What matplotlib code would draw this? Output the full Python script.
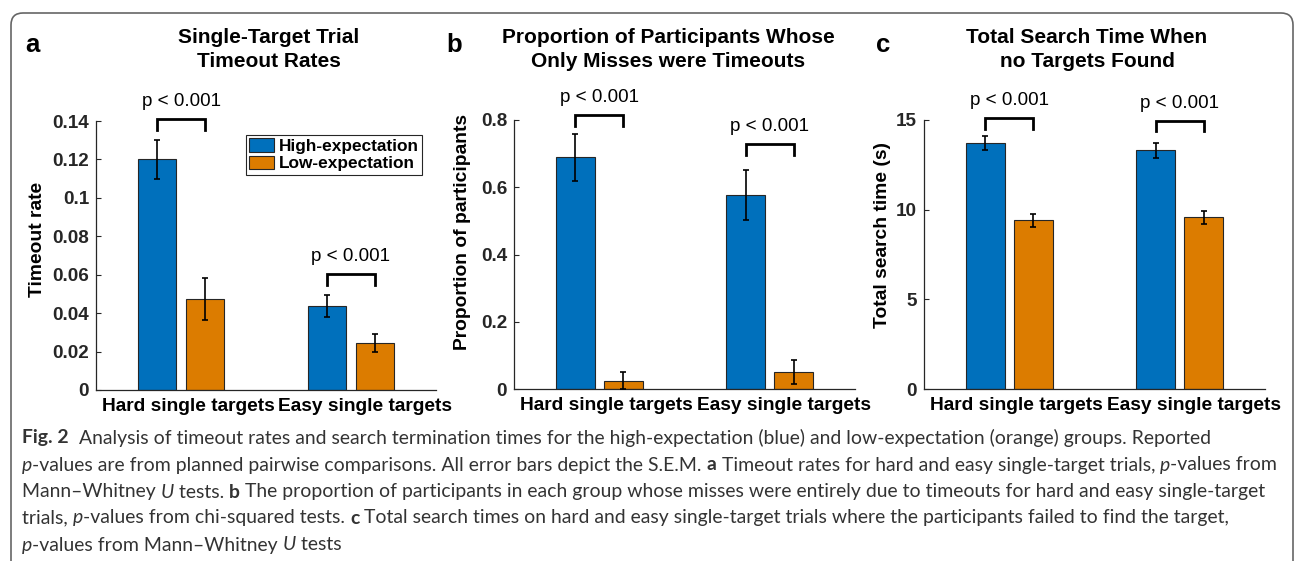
import numpy as np
import matplotlib
matplotlib.use('Agg')
import matplotlib.pyplot as plt
from matplotlib.patches import FancyBboxPatch
from matplotlib.font_manager import FontProperties
from matplotlib.transforms import IdentityTransform

W, H = 1295, 561

groups = ['Hard single targets', 'Easy single targets']
series = ['High-expectation', 'Low-expectation']
colors = ['#0070bc', '#dc7c00']

# panel a: timeout rates
a_high = [0.120, 0.0436]
a_high_err = [0.010, 0.0057]
a_low = [0.0472, 0.0246]
a_low_err = [0.011, 0.0048]
a_brackets = [0.141, 0.0604]

# panel b: proportion of participants
b_high = [0.689, 0.577]
b_high_err = [0.069, 0.074]
b_low = [0.025, 0.050]
b_low_err = [0.025, 0.036]
b_brackets = [0.815, 0.728]

# panel c: total search time
c_high = [13.72, 13.31]
c_high_err = [0.39, 0.43]
c_low = [9.41, 9.57]
c_low_err = [0.36, 0.37]
c_brackets = [15.1, 14.96]

p_text = 'p < 0.001'

plt.rcParams['font.family'] = ['Liberation Sans', 'DejaVu Sans']
axis_col = '#262626'

fig = plt.figure(figsize=(W / 100, H / 100), dpi=100)


def px_axes(left, right, top, bottom):
    return fig.add_axes([left / W, 1 - bottom / H, (right - left) / W, (bottom - top) / H])


def panel(ax, high, high_err, low, low_err, brackets, ymax, yticks, ylabel, title, tx, lab_xy):
    x = np.arange(len(groups)) + 1
    w = 0.229
    off = 0.141
    for xs, vals, errs, col, name in [(x - off, high, high_err, colors[0], series[0]),
                                      (x + off, low, low_err, colors[1], series[1])]:
        ax.bar(xs, vals, width=w, color=col, edgecolor=axis_col, linewidth=0.8, label=name, zorder=2)
        ax.errorbar(xs, vals, yerr=errs, fmt='none', ecolor='black', elinewidth=1.2,
                    capsize=2, capthick=1.2, zorder=3)
    leg = 0.04 * ymax
    for xi, top in zip(x, brackets):
        ax.plot([xi - off, xi - off, xi + off, xi + off], [top - leg, top, top, top - leg],
                color='black', lw=2.0, clip_on=False, solid_joinstyle='miter', zorder=4)
        ax.annotate(p_text, xy=(xi, top), xytext=(0, 12.5), textcoords='offset points',
                    ha='center', va='center', fontsize=13.6, color='black', annotation_clip=False)
    ax.set_xlim(0.5, 2.5)
    ax.set_ylim(0, ymax)
    # the reference prints its category labels slightly right of the bar groups;
    # the x ticks are hidden, so shift them with the labels
    ax.set_xticks(x + np.array([0.041, 0.085]))
    ax.set_xticklabels(groups, fontsize=13.8, fontweight='bold', color='black')
    ax.set_yticks(yticks)
    ax.set_yticklabels(['%g' % t for t in yticks], fontsize=13.6, fontweight='bold', color=axis_col)
    ax.tick_params(axis='x', length=0, pad=6)
    ax.tick_params(axis='y', direction='in', length=3.5, width=0.8, color=axis_col, pad=5)
    for s in ['top', 'right']:
        ax.spines[s].set_visible(False)
    for s in ['left', 'bottom']:
        ax.spines[s].set_color(axis_col)
        ax.spines[s].set_linewidth(0.9)
    ax.set_ylabel(ylabel, fontsize=13.9, fontweight='bold', color='black', va='center')
    ax.yaxis.set_label_coords(*lab_xy)
    ax.text(tx[0], tx[1], title, transform=ax.transAxes, ha='center', va='center',
            fontsize=15, fontweight='bold', linespacing=1.33)


ax_a = px_axes(96, 436, 121, 390)
ax_b = px_axes(514, 855, 120, 389)
ax_c = px_axes(924, 1265, 120, 389)

panel(ax_a, a_high, a_high_err, a_low, a_low_err, a_brackets, 0.14, np.arange(0, 0.141, 0.02),
      'Timeout rate', 'Single-Target Trial\nTimeout Rates', (0.509, 1.266), (-0.1735, 0.558))
panel(ax_b, b_high, b_high_err, b_low, b_low_err, b_brackets, 0.8, np.arange(0, 0.81, 0.2),
      'Proportion of participants', 'Proportion of Participants Whose\nOnly Misses were Timeouts',
      (0.452, 1.262), (-0.152, 0.584))
panel(ax_c, c_high, c_high_err, c_low, c_low_err, c_brackets, 15, [0, 5, 10, 15],
      'Total search time (s)', 'Total Search Time When\nno Targets Found', (0.478, 1.262), (-0.123, 0.572))

lg = ax_a.legend(loc='upper right', bbox_to_anchor=(0.959, 0.948), borderaxespad=0,
                 fancybox=False, framealpha=1, edgecolor=axis_col,
                 prop=dict(size=12.4, weight='bold'), handlelength=1.45, handleheight=0.8,
                 handletextpad=0.25, borderpad=0.2, labelspacing=0.1)
lg.get_frame().set_linewidth(0.8)

for lab, (lx, ly) in zip(['a', 'b', 'c'], [(32, 45), (454, 45), (883, 45)]):
    fig.text(lx / W, 1 - ly / H, lab, ha='center', va='center', fontsize=18.5, fontweight='bold')

# rounded frame around the figure
frame = FancyBboxPatch((11, -20), 1282, 561 - 13 + 20, boxstyle='round,pad=0,rounding_size=12',
                       transform=IdentityTransform(), fill=False, edgecolor='#666666', linewidth=1.2)
fig.add_artist(frame)

# caption
caption = [
    [('Fig. 2', 'b'), ('  Analysis of timeout rates and search termination times for the high-expectation (blue) and low-expectation (orange) groups. Reported', 'n')],
    [('p', 'i'), ('-values are from planned pairwise comparisons. All error bars depict the S.E.M. ', 'n'), ('a', 'b'),
     (' Timeout rates for hard and easy single-target trials, ', 'n'), ('p', 'i'), ('-values from', 'n')],
    [('Mann\u2013Whitney ', 'n'), ('U', 'i'), (' tests. ', 'n'), ('b', 'b'),
     (' The proportion of participants in each group whose misses were entirely due to timeouts for hard and easy single-target', 'n')],
    [('trials, ', 'n'), ('p', 'i'), ('-values from chi-squared tests. ', 'n'), ('c', 'b'),
     (' Total search times on hard and easy single-target trials where the participants failed to find the target,', 'n')],
    [('p', 'i'), ('-values from Mann\u2013Whitney ', 'n'), ('U', 'i'), (' tests', 'n')],
]
cap_y = [438, 465, 492, 518, 545]
cap_font = 'Lato'
renderer = fig.canvas.get_renderer()


def props(style, size):
    return FontProperties(family=[cap_font, 'DejaVu Sans'], size=size,
                          weight='bold' if style == 'b' else 'normal',
                          style='italic' if style == 'i' else 'normal')


def run_width(txt, style, size):
    fp = props(style, size)
    w1 = renderer.get_text_width_height_descent('|' + txt + '|', fp, ismath=False)[0]
    w0 = renderer.get_text_width_height_descent('||', fp, ismath=False)[0]
    return w1 - w0


# fit the caption size so the third line spans its width in the reference
base = 12.0
w3 = sum(run_width(t, s, base) for t, s in caption[2])
cap_size = base * (1262 - 22) / w3

for line, y in zip(caption, cap_y):
    x = 22
    for txt, style in line:
        fig.text(x / W, 1 - y / H, txt, fontproperties=props(style, cap_size), color='#333333',
                 ha='left', va='center')
        x += run_width(txt, style, cap_size)

fig.savefig('out.png', dpi=100)
